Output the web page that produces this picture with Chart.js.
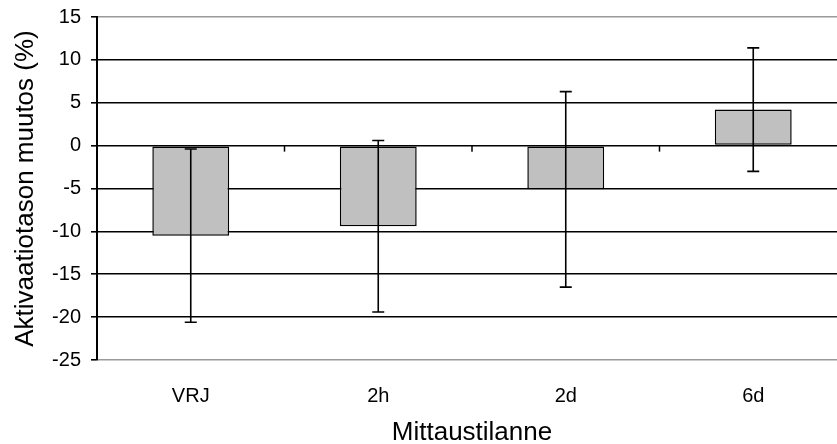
<!DOCTYPE html>
<html>
<head>
<meta charset="utf-8">
<script src="https://cdn.jsdelivr.net/npm/chart.js@4/dist/chart.umd.min.js"></script>
<style>
  html, body { margin: 0; padding: 0; background: #fff; overflow: hidden; }
  #wrap { width: 837px; height: 444px; overflow: hidden; }
</style>
</head>
<body>
<div id="wrap"><canvas id="chart" width="847" height="444"></canvas></div>
<script>
// mittaustilanteet ja arvot (luettu kuvasta)
const categories = ["VRJ", "2h", "2d", "6d"];
const means = [-10.5, -9.4, -5.1, 4.2];
const sd = [10.1, 10.0, 11.4, 7.2];
const yTicks = [15, 10, 5, 0, -5, -10, -15, -20, -25];

const FONT = "'Liberation Sans', Arial, sans-serif";

// virhepalkit keskiarvon ympärille
const errorBars = {
  id: "errorBars",
  afterDatasetsDraw(chart) {
    const ctx = chart.ctx;
    const y = chart.scales.y;
    const meta = chart.getDatasetMeta(0);
    ctx.save();
    ctx.strokeStyle = "#000";
    ctx.lineWidth = 1.6;
    meta.data.forEach((bar, i) => {
      const top = y.getPixelForValue(means[i] + sd[i]);
      const bot = y.getPixelForValue(means[i] - sd[i]);
      ctx.beginPath();
      ctx.moveTo(bar.x, top);
      ctx.lineTo(bar.x, bot);
      ctx.moveTo(bar.x - 6, top);
      ctx.lineTo(bar.x + 6, top);
      ctx.moveTo(bar.x - 6, bot);
      ctx.lineTo(bar.x + 6, bot);
      ctx.stroke();
    });
    ctx.restore();
  },
};

// pienet jakoviivat nollatasolla luokkien välissä
const zeroTicks = {
  id: "zeroTicks",
  beforeDatasetsDraw(chart) {
    const ctx = chart.ctx;
    const x = chart.scales.x;
    const y0 = chart.scales.y.getPixelForValue(0);
    ctx.save();
    ctx.strokeStyle = "#000";
    ctx.lineWidth = 1.5;
    for (let i = 1; i < categories.length; i++) {
      const px = (x.getPixelForValue(i - 1) + x.getPixelForValue(i)) / 2;
      ctx.beginPath();
      ctx.moveTo(px, y0);
      ctx.lineTo(px, y0 + 6);
      ctx.stroke();
    }
    ctx.restore();
  },
};

new Chart(document.getElementById("chart").getContext("2d"), {
  type: "bar",
  data: {
    labels: categories,
    datasets: [
      {
        data: means,
        backgroundColor: "#c0c0c0",
        borderColor: "#000",
        borderWidth: 1.5,
        borderSkipped: false,
        categoryPercentage: 1,
        barPercentage: 0.41,
      },
    ],
  },
  options: {
    responsive: false,
    animation: false,
    layout: { padding: { top: 17, right: 0, bottom: 0, left: 0 } },
    plugins: {
      legend: { display: false },
      tooltip: { enabled: false },
    },
    scales: {
      x: {
        grid: { display: false, drawTicks: false },
        border: { display: false },
        ticks: { color: "#000", padding: 24, font: { family: FONT, size: 20 } },
        title: {
          display: true,
          text: "Mittaustilanne",
          color: "#000",
          font: { family: FONT, size: 26, lineHeight: 1 },
          padding: { top: 0, bottom: -2 },
        },
        afterFit: (scale) => {
          scale.height = 84;
          scale.paddingLeft = 0;
          scale.paddingRight = 0;
        },
      },
      y: {
        min: -25,
        max: 15,
        afterBuildTicks: (scale) => { scale.ticks = yTicks.map((v) => ({ value: v })); },
        grid: {
          color: (c) => (c.tick && (c.tick.value === 15 || c.tick.value === -25) ? "#9a9a9a" : "#000"),
          lineWidth: 1.6,
          tickColor: "#000",
          tickLength: 6,
        },
        border: { display: true, color: "#000", width: 2 },
        ticks: { color: "#000", padding: 10, font: { family: FONT, size: 20 } },
        title: {
          display: true,
          text: "Aktivaatiotason muutos (%)",
          color: "#000",
          font: { family: FONT, size: 26, lineHeight: 1 },
          padding: { top: 13, bottom: 0 },
        },
        afterFit: (scale) => {
          scale.width = 97;
          scale.paddingTop = 0;
          scale.paddingBottom = 0;
        },
      },
    },
  },
  plugins: [zeroTicks, errorBars],
});
</script>
</body>
</html>
